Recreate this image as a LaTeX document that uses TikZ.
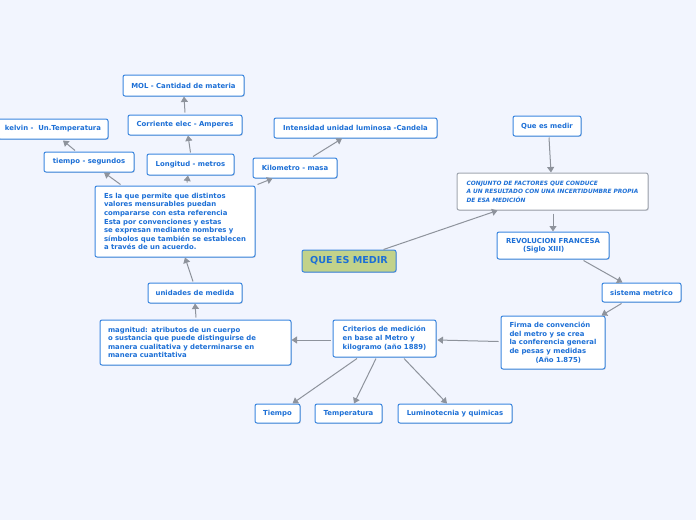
\documentclass[tikz,border=0pt]{standalone}
\usepackage{fontspec}
\setmainfont{DejaVu Sans}
\usetikzlibrary{calc,arrows.meta,shadows}
\definecolor{bg}{HTML}{F2F5FE}
\definecolor{nodeblue}{HTML}{3A86E0}
\definecolor{txtblue}{HTML}{1C6FD6}
\definecolor{conngray}{HTML}{8E939C}
\definecolor{boxgray}{HTML}{A0A6B0}
\definecolor{rootgreen}{HTML}{C2D28A}
\tikzset{
  box/.style={draw=nodeblue, line width=1pt, fill=white, rounded corners=2pt,
    text=txtblue, font=\bfseries\fontsize{6.9}{8.6}\selectfont, inner sep=2pt,
    drop shadow={shadow xshift=0.8pt, shadow yshift=-0.8pt, opacity=0.25}},
  conn/.style={draw=conngray, line width=1pt, -{Triangle[length=5.5pt,width=7pt]}},
}
\begin{document}
\begin{tikzpicture}[x=1pt,y=-1pt]
\fill[bg] (0,0) rectangle (696,520);
\useasboundingbox (0,0) rectangle (696,520);

\node[box, minimum width=121pt, minimum height=21pt] (mol) at (183.5,85.5) {MOL - Cantidad de materia};
\node[box, minimum width=114pt, minimum height=20pt] (corr) at (185,125) {Corriente elec - Amperes};
\node[box, minimum width=110pt, minimum height=20pt] (kelvin) at (53,129) {kelvin -\ \ Un.Temperatura};
\node[box, minimum width=90pt, minimum height=20pt] (tiempo) at (89,162) {tiempo - segundos};
\node[box, minimum width=87pt, minimum height=21pt] (long) at (190.5,164.5) {Longitud - metros};
\node[box, minimum width=160pt, minimum height=71pt, align=left] (esla) at (175,221.5)
  {Es la que permite que distintos\\valores mensurables puedan\\compararse con esta referencia\\Esta por convenciones y estas\\se expresan mediante nombres y\\símbolos que también se establecen\\a través de un acuerdo.};
\node[box, minimum width=84pt, minimum height=20pt] (kilo) at (295,168) {Kilometro - masa};
\node[box, minimum width=163pt, minimum height=20pt] (inten) at (355.5,128) {Intensidad unidad luminosa -Candela};
\node[box, minimum width=68pt, minimum height=20pt] (qmedir) at (547,126) {Que es medir};
\node[box, draw=boxgray, minimum width=191pt, minimum height=37pt, align=left,
  font=\bfseries\itshape\fontsize{5.85}{8.4}\selectfont] (conj) at (552.5,191.5)
  {CONJUNTO DE FACTORES QUE CONDUCE\\A UN RESULTADO CON UNA INCERTIDUMBRE PROPIA\\DE ESA MEDICIÓN};
\node[box, minimum width=112pt, minimum height=27pt, align=left] (rev) at (553,245.5)
  {REVOLUCION FRANCESA\\\hspace*{17pt}(Siglo XIII)};
\node[box, fill=rootgreen, minimum width=94pt, minimum height=22pt,
  font=\bfseries\fontsize{9.6}{11}\selectfont] (medir) at (349,261) {QUE ES MEDIR};
\node[box, minimum width=79pt, minimum height=19pt] (sist) at (641.5,292.5) {sistema metrico};
\node[box, minimum width=104pt, minimum height=53pt, align=left] (firma) at (553,342.5)
  {Firma de convención\\del metro y se crea\\la conferencia general\\de pesas y medidas\\\hspace*{26pt}(Año 1.875)};
\node[box, minimum width=103pt, minimum height=37pt, align=left] (crit) at (384.5,338.5)
  {Criterios de medición\\en base al Metro y\\kilogramo (año 1889)};
\node[box, inner xsep=8pt, text width=175pt, minimum height=45pt, align=left] (mag) at (195.5,342.5)
  {magnitud: atributos de un cuerpo\\o sustancia que puede distinguirse de\\manera cualitativa y determinarse en\\manera cuantitativa};
\node[box, minimum width=94pt, minimum height=20pt] (unid) at (195,293) {unidades de medida};
\node[box, minimum width=45pt, minimum height=19pt] (tiem) at (277.5,413.5) {Tiempo};
\node[box, minimum width=67pt, minimum height=19pt] (temp) at (348.5,413.5) {Temperatura};
\node[box, minimum width=114pt, minimum height=19pt] (lum) at (455,413.5) {Luminotecnia y quimicas};

\draw[conn] ($(medir.north east)+(-13,0)$) -- ($(conj.south west)+(41,0)$);
\draw[conn] ($(qmedir.south)+(2,1)$) -- ($(conj.north)+(-1.5,0)$);
\draw[conn] ($(conj.south)+(0.5,3)$) -- (rev.north);
\draw[conn] ($(rev.south east)+(-26,1)$) -- ($(sist.north west)+(21,0)$);
\draw[conn] ($(sist.south west)+(20,1)$) -- ($(firma.north east)+(-4,0)$);
\draw[conn] ($(firma.west)+(-2,-1)$) -- ($(crit.east)+(1,1.5)$);
\draw[conn] ($(crit.west)+(-2,1.5)$) -- ($(mag.east)+(0,-2.5)$);
\draw[conn] ($(mag.north)+(0.5,-2)$) -- (unid.south);
\draw[conn] ($(unid.north)+(-2,-1)$) -- ($(esla.south)+(10,0)$);
\draw[conn] ($(esla.north west)+(26,-1)$) -- ($(tiempo.south)+(15,0)$);
\draw[conn] ($(esla.north)+(12,-3)$) -- ($(long.south)+(-2.5,0)$);
\draw[conn] ($(esla.north east)+(2,-1)$) -- ($(kilo.south west)+(20,0)$);
\draw[conn] ($(tiempo.north)+(-14,-1)$) -- ($(kelvin.south)+(10,1)$);
\draw[conn] ($(long.north)+(0,-1)$) -- ($(corr.south)+(3,0)$);
\draw[conn] ($(corr.north)+(0,-2)$) -- ($(mol.south)+(0.5,0)$);
\draw[conn] ($(kilo.north)+(18,-1)$) -- ($(inten.south)+(-13.5,0)$);
\draw[conn] ($(crit.south)+(-27.5,1)$) -- ($(tiem.north east)+(-8,0)$);
\draw[conn] ($(crit.south)+(-8.5,1)$) -- ($(temp.north)+(5.5,0)$);
\draw[conn] ($(crit.south)+(19.5,1)$) -- ($(lum.north)+(-8,0)$);
\end{tikzpicture}
\end{document}
